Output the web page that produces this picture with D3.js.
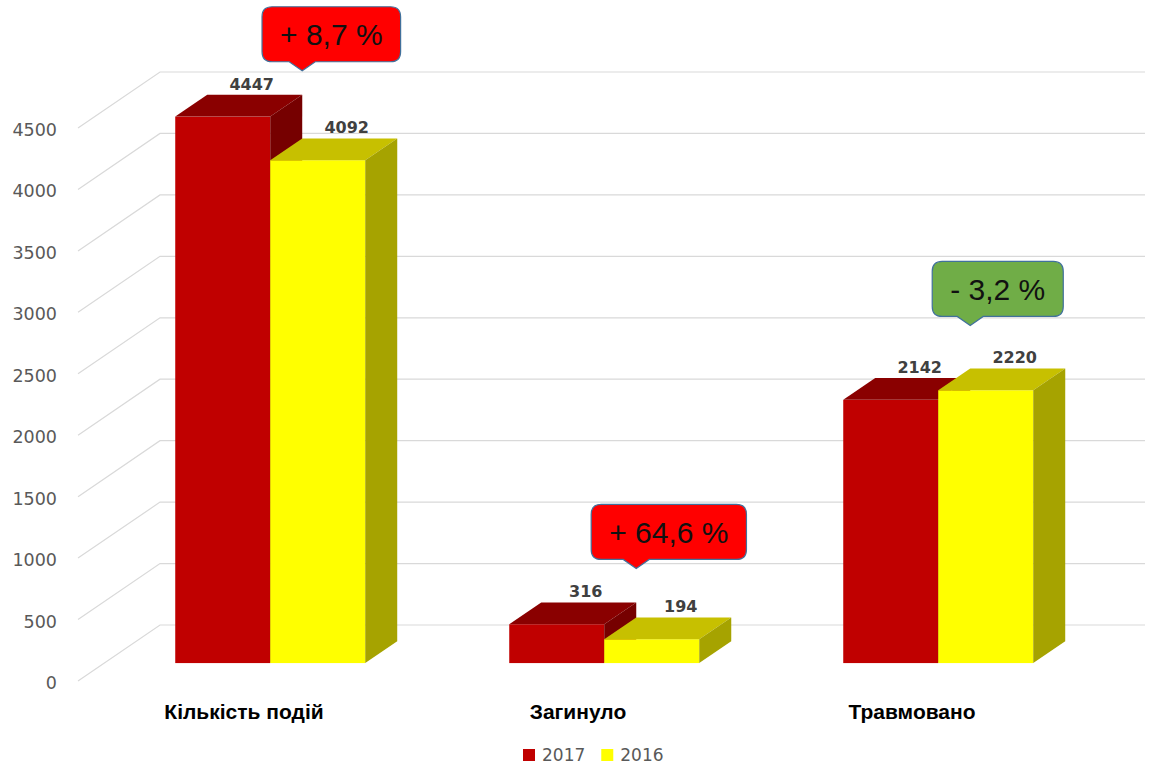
<!doctype html>
<html lang="uk">
<head>
<meta charset="utf-8">
<title>Події 2017 / 2016</title>
<script src="https://d3js.org/d3.v7.min.js"></script>
<style>
  body { margin: 0; background: #fff; }
  svg { display: block; }
</style>
</head>
<body>
<div id="chart"></div>
<script>
// data
var categories = ["Кількість подій", "Загинуло", "Травмовано"];
var series = ["2017", "2016"];
var values2017 = [4447, 316, 2142];
var values2016 = [4092, 194, 2220];
var changes = ["+ 8,7 %", "+ 64,6 %", "- 3,2 %"];
var changeKind = ["up", "up", "down"];
var yTicks = [0, 500, 1000, 1500, 2000, 2500, 3000, 3500, 4000, 4500];

var width = 1162, height = 767;

var svg = d3.select("#chart").append("svg")
  .attr("width", width)
  .attr("height", height);

// front plane of the axis and the depth of the 3d box
var y = d3.scaleLinear().domain([0, 4500]).range([681, 128]);
var x0 = d3.scaleBand().domain(categories).range([77, 1079]);
var groupW = 190;
var x1 = d3.scaleBand().domain(series).range([0, groupW]);
var depth = {x: 82, y: -56};
var wallRight = 1145;

// bars sit in the middle of the depth
var f0 = 0.32, f1 = 0.71;
var off = {x: depth.x * f0, y: depth.y * f0};
var bd = {x: depth.x * (f1 - f0), y: depth.y * (f1 - f0)};

var colors = {
  "2017": {front: "#C00000", top: "#8A0000", side: "#760000"},
  "2016": {front: "#FFFF00", top: "#C7C000", side: "#A6A300"}
};

// gridlines: back wall + side wall
var grid = svg.append("g").attr("stroke", "#D9D9D9").attr("stroke-width", 1.2).attr("fill", "none");
yTicks.forEach(function(v) {
  var yf = y(v), yb = y(v) + depth.y;
  grid.append("path")
    .attr("d", "M" + 78 + "," + yf + "L" + (78 + depth.x) + "," + yb + "L" + wallRight + "," + yb);
});

// y axis labels
svg.append("g").selectAll("text")
  .data(yTicks)
  .join("text")
    .attr("x", 57)
    .attr("y", function(d) { return y(d) + 2; })
    .attr("text-anchor", "end")
    .attr("dominant-baseline", "central")
    .attr("font-family", "DejaVu Sans, sans-serif")
    .attr("font-size", 17.5)
    .attr("fill", "#595959")
    .text(function(d) { return d; });

// bars
var bars = svg.append("g");
var tops = [];
categories.forEach(function(c, i) {
  var vals = [values2017[i], values2016[i]];
  var minTop = 1e9;
  series.forEach(function(s, j) {
    var v = vals[j];
    var w = x1.bandwidth();
    var bx = x0(c) + (x0.bandwidth() - groupW) / 2 + x1(s) + off.x;
    var yT = y(v) + off.y, yB = y(0) + off.y;
    var col = colors[s];
    bars.append("rect")
      .attr("x", bx).attr("y", yT)
      .attr("width", w).attr("height", yB - yT)
      .attr("fill", col.front);
    bars.append("path")
      .attr("d", "M" + bx + "," + yT + "L" + (bx + bd.x) + "," + (yT + bd.y) +
        "L" + (bx + w + bd.x) + "," + (yT + bd.y) + "L" + (bx + w) + "," + yT + "Z")
      .attr("fill", col.top);
    bars.append("path")
      .attr("d", "M" + (bx + w) + "," + yT + "L" + (bx + w + bd.x) + "," + (yT + bd.y) +
        "L" + (bx + w + bd.x) + "," + (yB + bd.y) + "L" + (bx + w) + "," + yB + "Z")
      .attr("fill", col.side);
    bars.append("text")
      .attr("x", bx + w / 2 + bd.x - 3)
      .attr("y", yT + bd.y - 5)
      .attr("text-anchor", "middle")
      .attr("font-family", "DejaVu Sans, sans-serif")
      .attr("font-weight", "bold")
      .attr("font-size", 16)
      .attr("fill", "#404040")
      .text(v);
    minTop = Math.min(minTop, yT + bd.y);
  });
  tops.push(minTop);
});

// category labels on the front plane
svg.append("g").selectAll("text")
  .data(categories)
  .join("text")
    .attr("x", function(d) { return x0(d) + x0.bandwidth() / 2; })
    .attr("y", 719)
    .attr("text-anchor", "middle")
    .attr("font-family", "Liberation Sans Narrow, Liberation Sans, sans-serif")
    .attr("font-weight", "bold")
    .attr("font-size", 21)
    .attr("fill", "#000")
    .text(function(d) { return d; });

// callouts with the change in percent
var calloutLift = [24, 34, 43];
categories.forEach(function(c, i) {
  var tipX = x0(c) + x0.bandwidth() / 2 + off.x + bd.x;
  var tipY = tops[i] - calloutLift[i];
  var g = svg.append("g");
  var path = g.append("path");
  var t = g.append("text")
    .attr("font-family", "Liberation Sans, Arial, sans-serif")
    .attr("font-size", 30)
    .attr("fill", "#111")
    .attr("text-anchor", "middle")
    .text(changes[i]);
  var tw = t.node().getComputedTextLength();
  var w = tw + 36, h = 55, r = 10;
  var left = tipX - 0.29 * w, bottom = tipY - 9, top = bottom - h, right = left + w;
  var d = "M" + (left + r) + "," + top +
    "L" + (right - r) + "," + top +
    "Q" + right + "," + top + " " + right + "," + (top + r) +
    "L" + right + "," + (bottom - r) +
    "Q" + right + "," + bottom + " " + (right - r) + "," + bottom +
    "L" + (tipX + 13) + "," + bottom +
    "L" + tipX + "," + tipY +
    "L" + (tipX - 13) + "," + bottom +
    "L" + (left + r) + "," + bottom +
    "Q" + left + "," + bottom + " " + left + "," + (bottom - r) +
    "L" + left + "," + (top + r) +
    "Q" + left + "," + top + " " + (left + r) + "," + top + "Z";
  path.attr("d", d)
    .attr("fill", changeKind[i] === "up" ? "#FF0000" : "#70AD47")
    .attr("stroke", "#41719C")
    .attr("stroke-width", 1.2);
  t.attr("x", (left + right) / 2).attr("y", top + h / 2 + 11);
});

// legend
var legend = svg.append("g").attr("transform", "translate(523,749)");
var lx = 0;
series.forEach(function(s) {
  legend.append("rect")
    .attr("x", lx).attr("y", 0).attr("width", 12).attr("height", 12)
    .attr("fill", colors[s].front);
  var tt = legend.append("text")
    .attr("x", lx + 19).attr("y", 12)
    .attr("font-family", "DejaVu Sans, sans-serif")
    .attr("font-size", 17)
    .attr("fill", "#595959")
    .text(s);
  lx += 19 + tt.node().getComputedTextLength() + 16;
});
</script>
</body>
</html>
